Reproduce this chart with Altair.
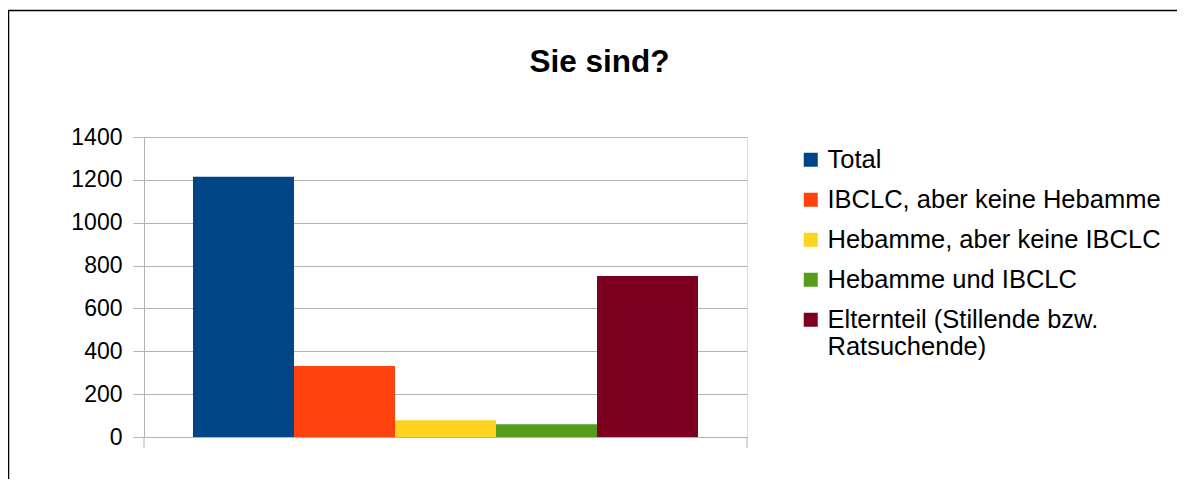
import altair as alt
import pandas as pd

categories = [
    "Total",
    "IBCLC, aber keine Hebamme",
    "Hebamme, aber keine IBCLC",
    "Hebamme und IBCLC",
    "Elternteil (Stillende bzw. Ratsuchende)",
]
values = [1214, 331, 78, 59, 751]
colors = ["#004586", "#ff420e", "#ffd320", "#579d1c", "#7e0021"]
y_ticks = [0, 200, 400, 600, 800, 1000, 1200, 1400]

df = pd.DataFrame({"Serie": categories, "Wert": values})

FONT = "Liberation Sans"
GRID = "#b3b3b3"
W, H = 603, 300

bars = alt.Chart(df).mark_bar(size=101).encode(
    x=alt.X("Serie:N", sort=categories, axis=None,
            scale=alt.Scale(paddingInner=0, paddingOuter=0.485)),
    y=alt.Y("Wert:Q", scale=alt.Scale(domain=[0, 1400], nice=False),
            axis=alt.Axis(values=y_ticks, format="d", title=None, grid=True,
                          gridColor=GRID, domainColor=GRID, tickColor=GRID,
                          tickSize=11, labelFont=FONT, labelFontSize=23,
                          labelColor="black", labelPadding=11, labelFlush=False)),
    color=alt.Color("Serie:N", sort=categories,
                    scale=alt.Scale(domain=categories, range=colors),
                    legend=alt.Legend(
                        title=None, orient="none", legendX=654, legendY=10,
                        symbolType="square", symbolSize=196, symbolStrokeWidth=0,
                        symbolOpacity=1, labelFont=FONT, labelFontSize=25.5,
                        labelColor="black", labelOffset=4, labelLimit=500,
                        rowPadding=13, padding=0,
                        labelExpr="datum.label == 'Elternteil (Stillende bzw. Ratsuchende)' ? ['Elternteil (Stillende bzw.', 'Ratsuchende)'] : datum.label",
                    )),
)

tick_l = alt.Chart(alt.Data(values=[{}])).mark_rule(color=GRID, strokeWidth=1).encode(
    x=alt.value(0), y=alt.value(H), y2=alt.value(H + 11))
tick_r = alt.Chart(alt.Data(values=[{}])).mark_rule(color=GRID, strokeWidth=1).encode(
    x=alt.value(W), y=alt.value(H), y2=alt.value(H + 11))

frame = alt.Chart(alt.Data(values=[{}])).mark_rect(
    filled=False, stroke="black", strokeWidth=1.5, fill=None
).encode(x=alt.value(-135.5), x2=alt.value(2000), y=alt.value(-126.5), y2=alt.value(1000))

chart = alt.layer(bars, tick_l, tick_r, frame).properties(
    width=W, height=H,
    title=alt.TitleParams("Sie sind?", font=FONT, fontSize=31.5, fontWeight="bold",
                          color="black", anchor="middle", dx=154,
                          baseline="alphabetic", offset=-94),
    autosize=alt.AutoSizeParams(type="none"),
    padding={"left": 136, "top": 129, "right": 430, "bottom": 42},
).configure_view(stroke=GRID, strokeWidth=1).configure(background="white")

chart.save("out.html", embed_options={"renderer": "svg", "actions": False})
